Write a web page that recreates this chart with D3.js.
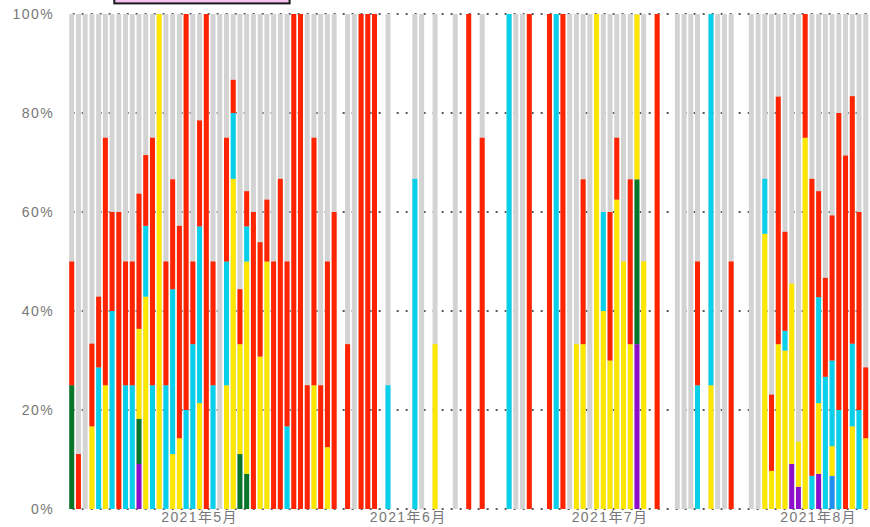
<!DOCTYPE html>
<html><head><meta charset="utf-8">
<script src="https://cdn.jsdelivr.net/npm/d3@7"></script>
<style>body{margin:0;background:#fff}svg{display:block}</style>
</head><body><svg id="c" width="870" height="527"></svg>
<script>
// ---- data (percent of daily total, one value per day) ----
const startDate = "2021-04-12";
const reported = [
 1,1,1,1,1,1,1,1,1,1, 1,1,1,1,1,1,1,1,1,1, 1,1,1,1,1,1,1,1,1,1, 1,1,1,1,1,1,1,1,1,1,
 0,1,1,1,1,1,0,1,0,0, 0,1,1,0,1,0,0,1,0,1, 0,1,0,0,0,1,1,1,1,0, 0,1,1,1,1,1,1,1,1,1,
 1,1,1,1,1,1,0,1,0,0, 1,1,1,1,0,1,1,1,1,0, 0,1,1,1,1,1,1,1,1,1, 1,1,1,1,1,1,1,1,1];
const purple = [
 0,0,0,0,0,0,0,0,0,0, 9.1,0,0,0,0,0,0,0,0,0, 0,0,0,0,0,0,0,0,0,0, 0,0,0,0,0,0,0,0,0,0,
 0,0,0,0,0,0,0,0,0,0, 0,0,0,0,0,0,0,0,0,0, 0,0,0,0,0,0,0,0,0,0, 0,0,0,0,0,0,0,0,0,0,
 0,0,0,0,33.3,0,0,0,0,0, 0,0,0,0,0,0,0,0,0,0, 0,0,0,0,0,0,0,9.1,4.5,0, 0,7.1,0,0,0,0,0,0,0];
const green = [
 25,0,0,0,0,0,0,0,0,0, 9.1,0,0,0,0,0,0,0,0,0, 0,0,0,0,0,11.1,7.1,0,0,0, 0,0,0,0,0,0,0,0,0,0,
 0,0,0,0,0,0,0,0,0,0, 0,0,0,0,0,0,0,0,0,0, 0,0,0,0,0,0,0,0,0,0, 0,0,0,0,0,0,0,0,0,0,
 0,0,0,0,33.3,0,0,0,0,0, 0,0,0,0,0,0,0,0,0,0, 0,0,0,0,0,0,0,0,0,0, 0,0,0,0,0,0,0,0,0];
const blue = [
 0,0,0,0,0,0,0,0,0,0, 0,0,0,0,0,0,0,0,0,0, 0,0,0,0,0,0,0,0,0,0, 0,0,0,0,0,0,0,0,0,0,
 0,0,0,0,0,0,0,0,0,0, 0,0,0,0,0,0,0,0,0,0, 0,0,0,0,0,0,0,0,0,0, 0,0,0,0,0,0,0,0,0,0,
 0,0,0,0,0,0,0,0,0,0, 0,0,0,0,0,0,0,0,0,0, 0,0,0,0,0,0,0,0,0,0, 0,0,0,6.7,0,0,0,0,0];
const yellow = [
 0,0,0,16.7,0,25,0,0,0,0, 18.2,42.9,0,100,0,11.1,14.3,0,0,21.4, 0,0,0,25,66.7,22.2,42.9,0,30.8,50, 0,0,0,0,0,0,25,0,12.5,0,
 0,0,0,0,0,0,0,0,0,0, 0,0,0,0,33.3,0,0,0,0,0, 0,0,0,0,0,0,0,0,0,0, 0,0,0,0,0,33.3,33.3,0,100,40,
 30,62.5,50,33.3,33.3,50,0,0,0,0, 0,0,0,0,0,25,0,0,0,0, 0,0,0,55.6,7.7,33.3,32,36.4,9.1,75, 0,14.3,0,6,0,0,16.7,0,14.3];
const cyan = [
 0,0,0,0,28.6,0,40,0,25,25, 0,14.3,25,0,25,33.3,0,20,33.3,35.7, 0,25,0,25,13.3,0,7.1,0,0,0, 0,0,16.7,0,0,0,0,0,0,0,
 0,0,0,0,0,0,0,25,0,0, 0,66.7,0,0,0,0,0,0,0,0, 0,0,0,0,0,100,0,0,0,0, 0,0,100,0,0,0,0,0,0,20,
 0,0,0,0,0,0,0,0,0,0, 0,0,0,25,0,75,0,0,0,0, 0,0,0,11.1,0,0,4,0,0,0, 6.7,21.4,26.7,17.3,20,0,16.7,20,0];
const red = [
 25,11.1,0,16.7,14.3,50,20,60,25,25, 27.3,14.3,50,0,25,22.2,42.9,80,16.7,21.4, 100,25,0,25,6.7,11.1,7.1,60,23.1,12.5, 50,66.7,33.3,100,100,25,50,25,37.5,60,
 0,33.3,0,100,100,100,0,0,0,0, 0,0,0,0,0,0,0,0,0,100, 0,75,0,0,0,0,0,0,100,0, 0,100,0,100,0,0,33.3,0,0,0,
 30,12.5,0,33.3,0,0,0,100,0,0, 0,0,0,25,0,0,0,0,50,0, 0,0,0,0,15.4,50,20,0,0,25, 60,21.4,20,29.3,60,71.4,50,40,14.3];

const seriesKeys = ["purple","green","blue","yellow","cyan","red"];
const seriesColors = ["#8e0fcb","#08762a","#1f8ff0","#fde600","#08d0ea","#ff2300"];
const otherColor = "#d3d3d3";
const yTicks = [0,20,40,60,80,100];
const yTickLabels = ["0%","20%","40%","60%","80%","100%"];
const monthTicks = ["2021-05-01","2021-06-01","2021-07-01","2021-08-01"];
const monthLabels = ["2021年5月","2021年6月","2021年7月","2021年8月"];

// ---- build ----
const parse = d3.timeParse("%Y-%m-%d"), fmt = d3.timeFormat("%Y-%m-%d");
const s0 = parse(startDate);
const days = d3.timeDay.range(s0, d3.timeDay.offset(s0, reported.length)).map(fmt);
const seriesData = {purple, green, blue, yellow, cyan, red};
const rows = days.map((d,i) => {
  const r = {date: d, reported: reported[i]};
  seriesKeys.forEach(k => r[k] = seriesData[k][i]);
  return r;
});

const svg = d3.select("#c");
const font = "'Liberation Sans','Noto Sans CJK SC',Arial,sans-serif";
const x = d3.scaleBand().domain(days).range([68.35, 869.1]).paddingInner(0.26).paddingOuter(0.13);
const y = d3.scaleLinear().domain([0,100]).range([509,14]);

// legend frame (clipped at top)
svg.append("rect").attr("x",114.3).attr("y",-30).attr("width",175.3).attr("height",33.4)
  .attr("fill","#f5c4f1").attr("stroke","#1a1a1a").attr("stroke-width",2);

// dotted grid
svg.append("g").selectAll("line").data(yTicks).join("line")
  .attr("x1",68).attr("x2",870).attr("y1",d=>y(d)).attr("y2",d=>y(d))
  .attr("stroke","#222").attr("stroke-width",1.6)
  .attr("stroke-dasharray","2,7").attr("stroke-dashoffset",4.35);

// background (remaining share) bars
svg.append("g").selectAll("rect").data(rows.filter(r=>r.reported)).join("rect")
  .attr("x",d=>x(d.date)).attr("width",x.bandwidth())
  .attr("y",y(100)).attr("height",y(0)-y(100)).attr("fill",otherColor);

// stacked series
const stacked = d3.stack().keys(seriesKeys)(rows);
svg.append("g").selectAll("g").data(stacked).join("g")
  .attr("fill",(s,i)=>seriesColors[i])
  .selectAll("rect").data(s=>s.filter(d=>d[1]>d[0])).join("rect")
  .attr("x",d=>x(d.data.date)).attr("width",x.bandwidth())
  .attr("y",d=>y(d[1])).attr("height",d=>y(d[0])-y(d[1]));

// y labels
const yAxis = d3.axisLeft(y).tickValues(yTicks).tickFormat((d,i)=>yTickLabels[i]).tickSize(0).tickPadding(0);
const ya = svg.append("g").attr("transform","translate(54,0)").call(yAxis);
ya.select(".domain").remove();
ya.selectAll("text").attr("font-family",font).attr("font-size",14).attr("fill","#777")
  .attr("letter-spacing","1.4px").attr("dy","0.35em");

// x labels
const xAxis = d3.axisBottom(x).tickValues(monthTicks).tickFormat((d,i)=>monthLabels[i]).tickSize(0).tickPadding(0);
const xa = svg.append("g").attr("transform","translate(0,512)").call(xAxis);
xa.select(".domain").remove();
xa.selectAll("text").attr("font-family",font).attr("font-size",14).attr("fill","#777")
  .attr("letter-spacing","1.4px").attr("dy","0.71em");
</script></body></html>
